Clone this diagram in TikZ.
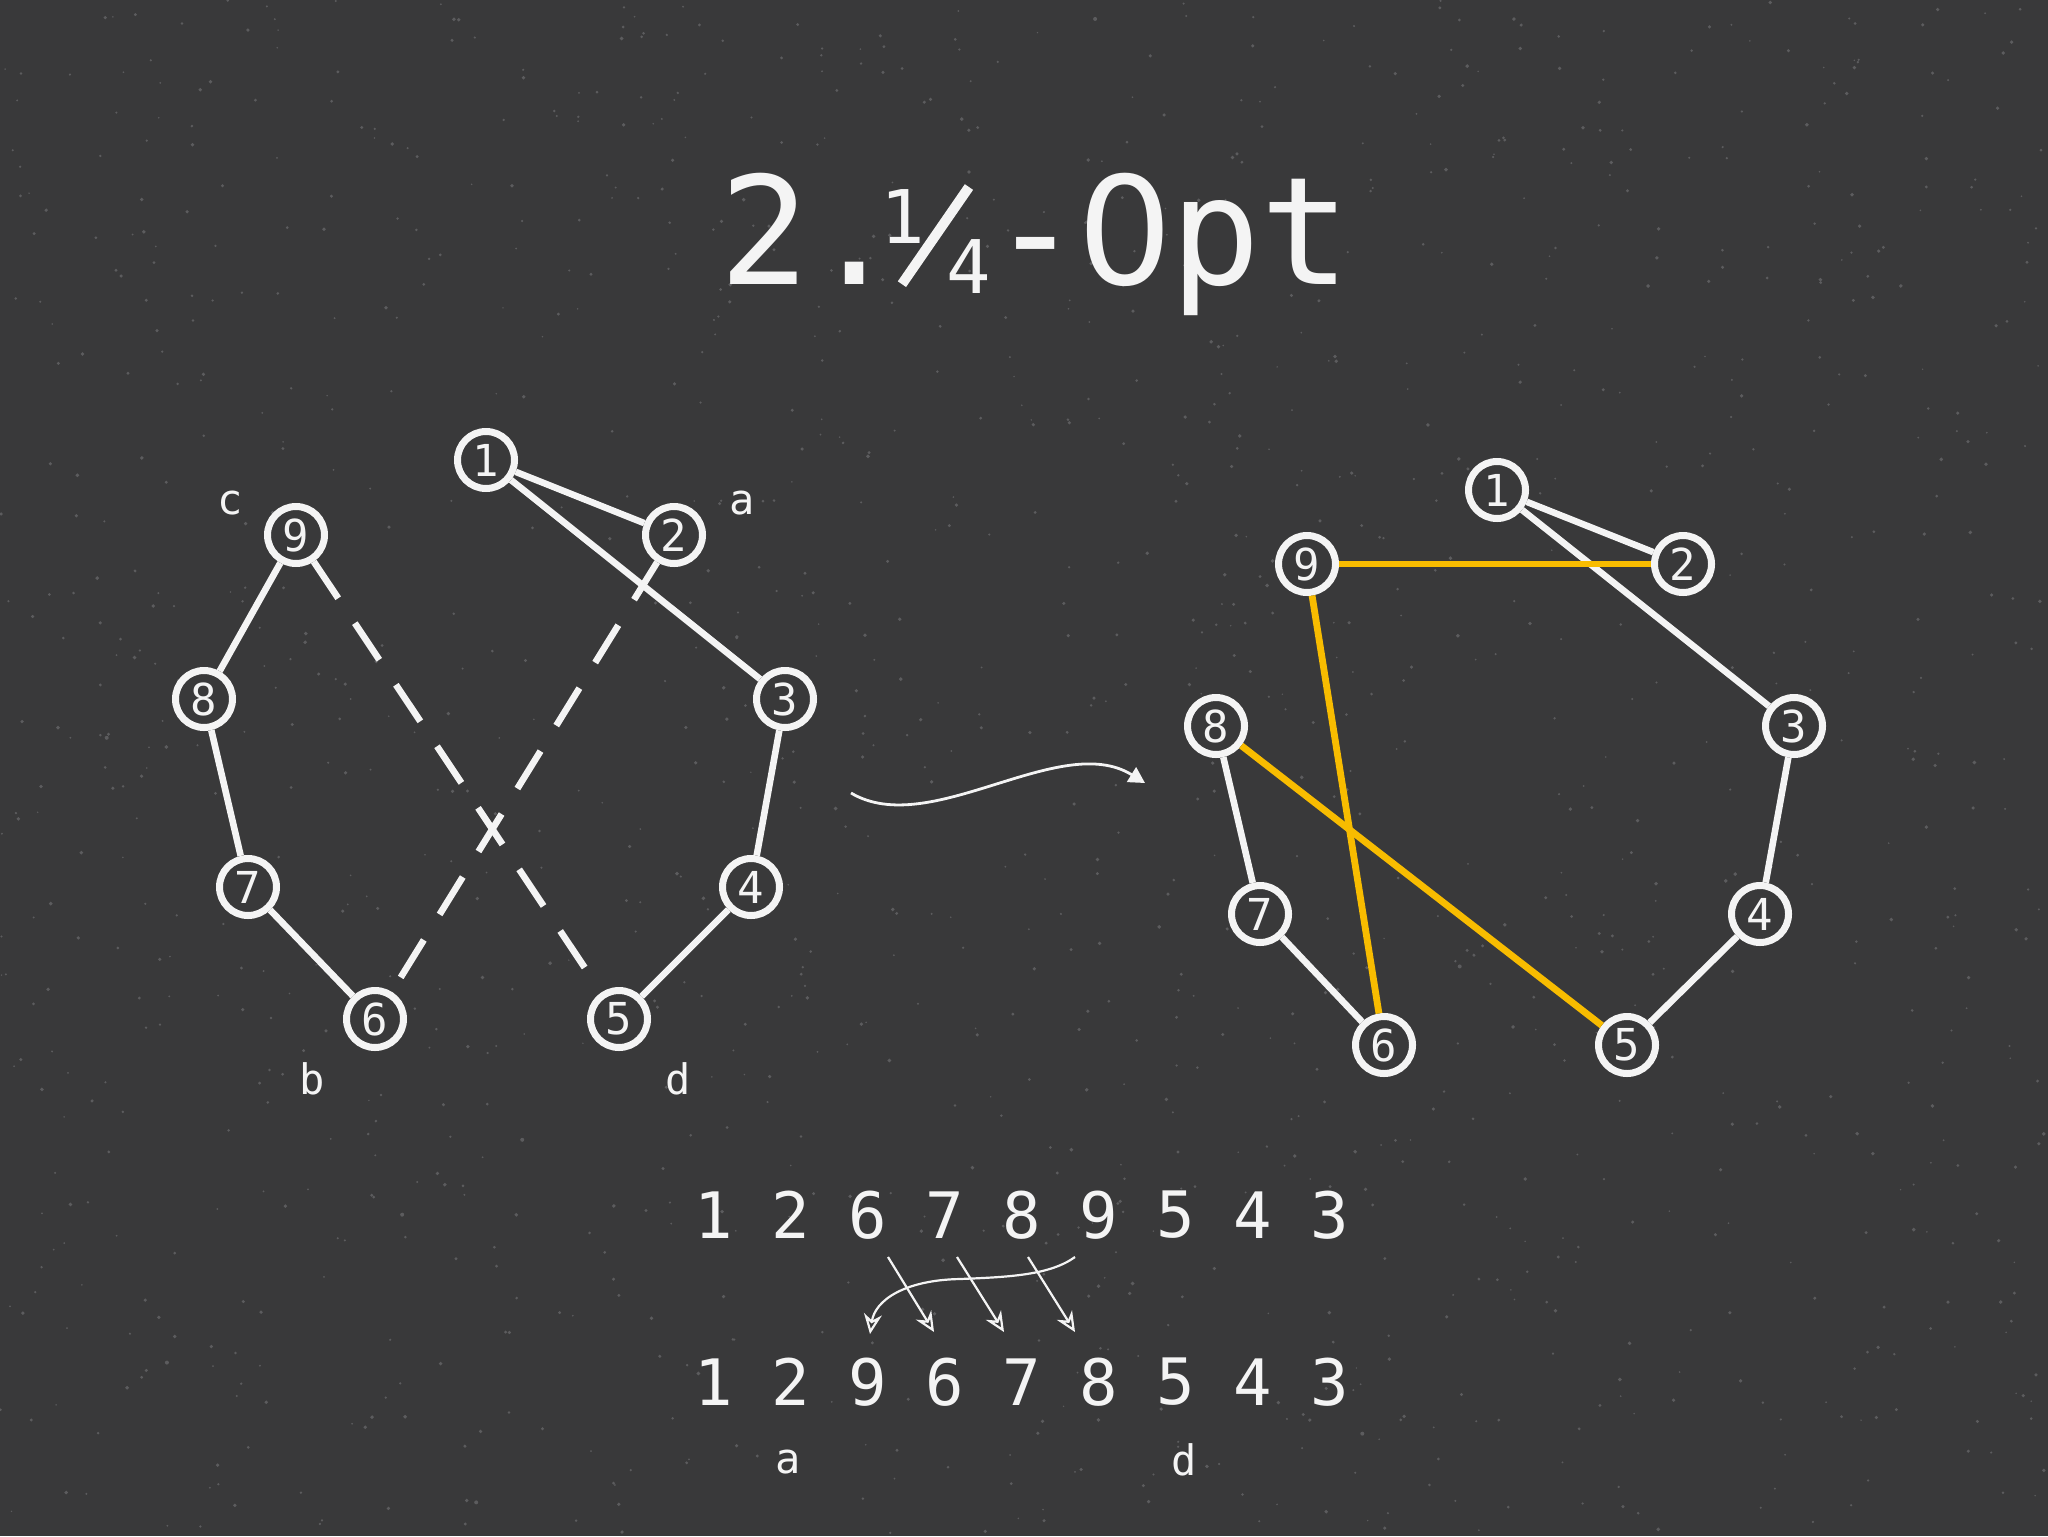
\documentclass[tikz,border=0pt]{standalone}
\usepackage{fontspec}
\setmainfont{DejaVu Sans Mono}
\newfontfamily\plainsans{DejaVu Sans}
\usetikzlibrary{arrows.meta}
\definecolor{board}{RGB}{57,57,58}
\definecolor{speck}{RGB}{92,92,94}
\definecolor{chalk}{RGB}{244,244,244}
\definecolor{gold}{RGB}{248,188,0}
\newcommand{\quarterfrac}{\makebox[45pt][l]{%
  \rlap{\kern-10pt\raisebox{20.5pt}{\fontsize{37}{37}\selectfont 1}}%
  \rlap{\kern-1.1pt\raisebox{-1.5pt}{\rotatebox{55.4}{\rule{59pt}{5pt}}}}%
  \rlap{\kern23pt\raisebox{-4.5pt}{\fontsize{37}{37}\selectfont 4}}}}
\begin{document}
\begin{tikzpicture}[x=0.5pt,y=-0.5pt,
  vert/.style={circle,draw=chalk,line width=3.5pt,fill=board,minimum size=28.5pt,inner sep=0pt,text=chalk,font=\fontsize{22}{22}\selectfont},
  edge/.style={draw=chalk,line width=3.3pt},
  hot/.style={draw=gold,line width=3.4pt},
  dashedge/.style={draw=chalk,line width=3.3pt,dash pattern=on 22pt off 15pt},
  lbl/.style={text=chalk,font=\fontsize{21}{21}\selectfont,inner sep=0pt},
  seq/.style={text=chalk,font=\fontsize{32}{32}\selectfont,inner sep=0pt},
  thinarrow/.style={draw=chalk,line width=1.1pt,-{Stealth[open,length=10pt,width=9pt]}}]
\useasboundingbox (0,0) rectangle (2048,1536);
\fill[board] (0,0) rectangle (2048,1536);
\pgfmathsetseed{4242}
\foreach \k in {1,...,1400}
  \fill[speck] ({2048*rnd},{1536*rnd}) circle ({0.8+1.2*rnd});

% title
\node[text=chalk,font=\fontsize{75}{75}\selectfont,anchor=base west,inner sep=0pt] (title) at (719,284) {2.\quarterfrac-\makebox[45pt]{\plainsans 0}pt};

% left graph
\node[vert] (L1) at (486,460) {1};
\node[vert] (L2) at (674,535) {2};
\node[vert] (L3) at (785,699) {3};
\node[vert] (L4) at (751,887) {4};
\node[vert] (L5) at (619,1019) {5};
\node[vert] (L6) at (375,1019) {6};
\node[vert] (L7) at (248,887) {7};
\node[vert] (L8) at (204,699) {8};
\node[vert] (L9) at (296,535) {9};
\draw[edge] (L1) -- (L2);
\draw[edge] (L1) -- (L3);
\draw[edge] (L3) -- (L4);
\draw[edge] (L4) -- (L5);
\draw[edge] (L9) -- (L8);
\draw[edge] (L8) -- (L7);
\draw[edge] (L7) -- (L6);
\draw[dashedge] (L9) -- (L5);
\draw[dashedge] (L2) -- (L6);

\node[lbl] (lc) at (230,503) {c};
\node[lbl] (la) at (742,503) {a};
\node[lbl] (lb) at (312,1079) {b};
\node[lbl] (ld) at (678,1079) {d};

% middle arrow
\coordinate (arrS) at (851,793);
\coordinate (arrE) at (1145,783);
\draw[chalk,line width=1.4pt,-{Triangle[length=8pt,width=8.5pt]}] (arrS) .. controls (930,840) and (1060,730) .. (arrE);

% right graph
\node[vert] (R1) at (1497,490) {1};
\node[vert] (R2) at (1683,564) {2};
\node[vert] (R3) at (1794,726) {3};
\node[vert] (R4) at (1760,914) {4};
\node[vert] (R5) at (1627,1045) {5};
\node[vert] (R6) at (1384,1045) {6};
\node[vert] (R7) at (1260,914) {7};
\node[vert] (R8) at (1216,726) {8};
\node[vert] (R9) at (1307,564) {9};
\draw[edge] (R1) -- (R2);
\draw[edge] (R1) -- (R3);
\draw[edge] (R3) -- (R4);
\draw[edge] (R4) -- (R5);
\draw[edge] (R8) -- (R7);
\draw[edge] (R7) -- (R6);
\draw[hot] (R9) -- (R2);
\draw[hot] (R9) -- (R6);
\draw[hot] (R8) -- (R5);

% sequences
\foreach \d [count=\i from 0] in {1,2,6,7,8,9,5,4,3}
  \node[seq] (t\d) at (714+77*\i,1215) {\d};
\foreach \d [count=\i from 0] in {1,2,9,6,7,8,5,4,3}
  \node[seq] (b\d) at (714+77*\i,1382) {\d};
\node[lbl] (sa) at (788,1462) {a};
\node[lbl] (sd) at (1184,1460) {d};

\coordinate (p1s) at (888,1257); \coordinate (p1e) at (934,1332);
\coordinate (p2s) at (957,1257); \coordinate (p2e) at (1004,1332);
\coordinate (p3s) at (1028,1257); \coordinate (p3e) at (1075,1332);
\coordinate (qs) at (1075,1257); \coordinate (qe) at (870,1334);
\draw[thinarrow] (p1s) -- (p1e);
\draw[thinarrow] (p2s) -- (p2e);
\draw[thinarrow] (p3s) -- (p3e);
\draw[thinarrow] (qs) .. controls (1050,1275) and (1010,1277) .. (960,1279) .. controls (905,1280) and (875,1300) .. (qe);
\end{tikzpicture}
\end{document}
